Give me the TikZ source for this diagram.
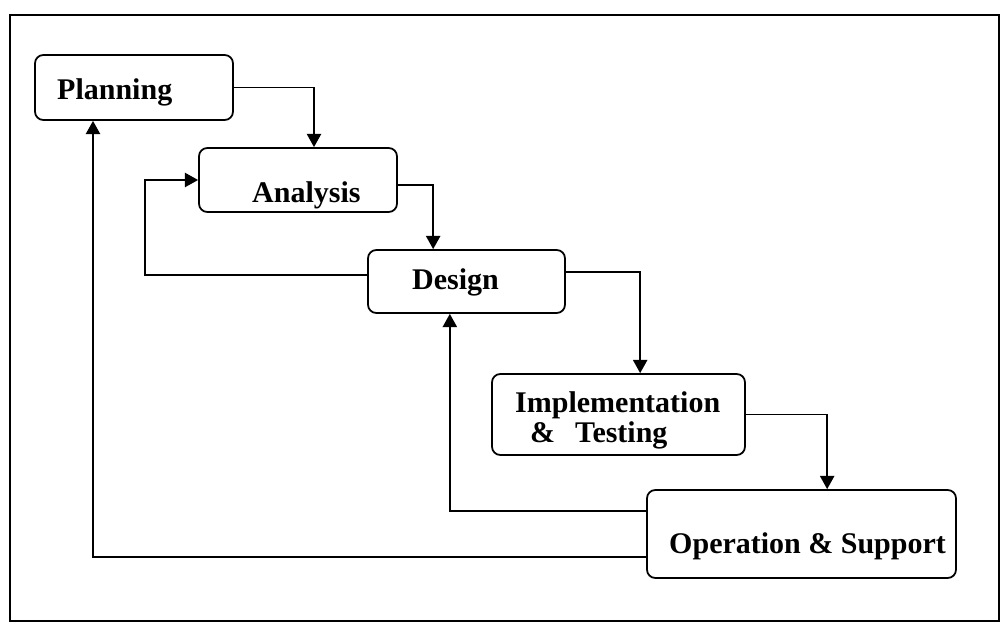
\documentclass[tikz,border=0pt]{standalone}
\usepackage{fontspec}
\setmainfont{Liberation Serif}
\usetikzlibrary{arrows.meta}

\tikzset{
  stage/.style={draw, line width=1.5pt, rounded corners=2.5mm},
  lbl/.style={inner sep=0pt, anchor=base west, font=\fontsize{25.6}{25.6}\selectfont\bfseries},
  flow/.style={line width=1.5pt, -{Triangle[length=4mm,width=4.3mm]}}
}

\begin{document}
\begin{tikzpicture}[x=0.03cm,y=-0.03cm]
    \useasboundingbox (0,0) rectangle (1001,623);
    \draw [line width=1.4pt] (10,15) rectangle (999,621);

    \node [stage, minimum width=5.94cm, minimum height=1.95cm] (plan) at (134,87.5) {};
    \node [stage, minimum width=5.94cm, minimum height=1.92cm] (ana) at (298,180) {};
    \node [stage, minimum width=5.91cm, minimum height=1.89cm] (des) at (466.5,281.5) {};
    \node [stage, minimum width=7.59cm, minimum height=2.43cm] (impl) at (618.5,414.5) {};
    \node [stage, minimum width=9.27cm, minimum height=2.64cm] (ops) at (801.5,534) {};

    \node [lbl] (planT) at (57,100) {Planning};
    \node [lbl] (anaT) at (252,203) {Analysis};
    \node [lbl] (desT) at (412,290) {Design};
    \node [lbl, anchor=north west, align=left] (implT) at (515,391.5) {Implementation\\\hspace*{0.45cm}\&\hspace{0.6cm}Testing};
    \node [lbl] (opsT) at (669,553) {Operation \& Support};

    \draw [flow] (plan.east) -| ([xshift=0.48cm]ana.north);
    \draw [flow] ([yshift=-0.15cm]ana.east) -| ([xshift=-1cm]des.north);
    \draw [flow] ([yshift=0.2cm]des.west) -- ++(-222,0) |- (ana.west);
    \draw [flow] ([yshift=0.28cm]des.east) -| ([xshift=0.65cm]impl.north);
    \draw [flow] (impl.east) -| ([xshift=0.77cm]ops.north);
    \draw [flow] ([yshift=0.69cm]ops.west) -| ([xshift=-0.5cm]des.south);
    \draw [flow] ([yshift=-0.69cm]ops.west) -| ([xshift=-1.23cm]plan.south);
  \end{tikzpicture}
\end{document}
